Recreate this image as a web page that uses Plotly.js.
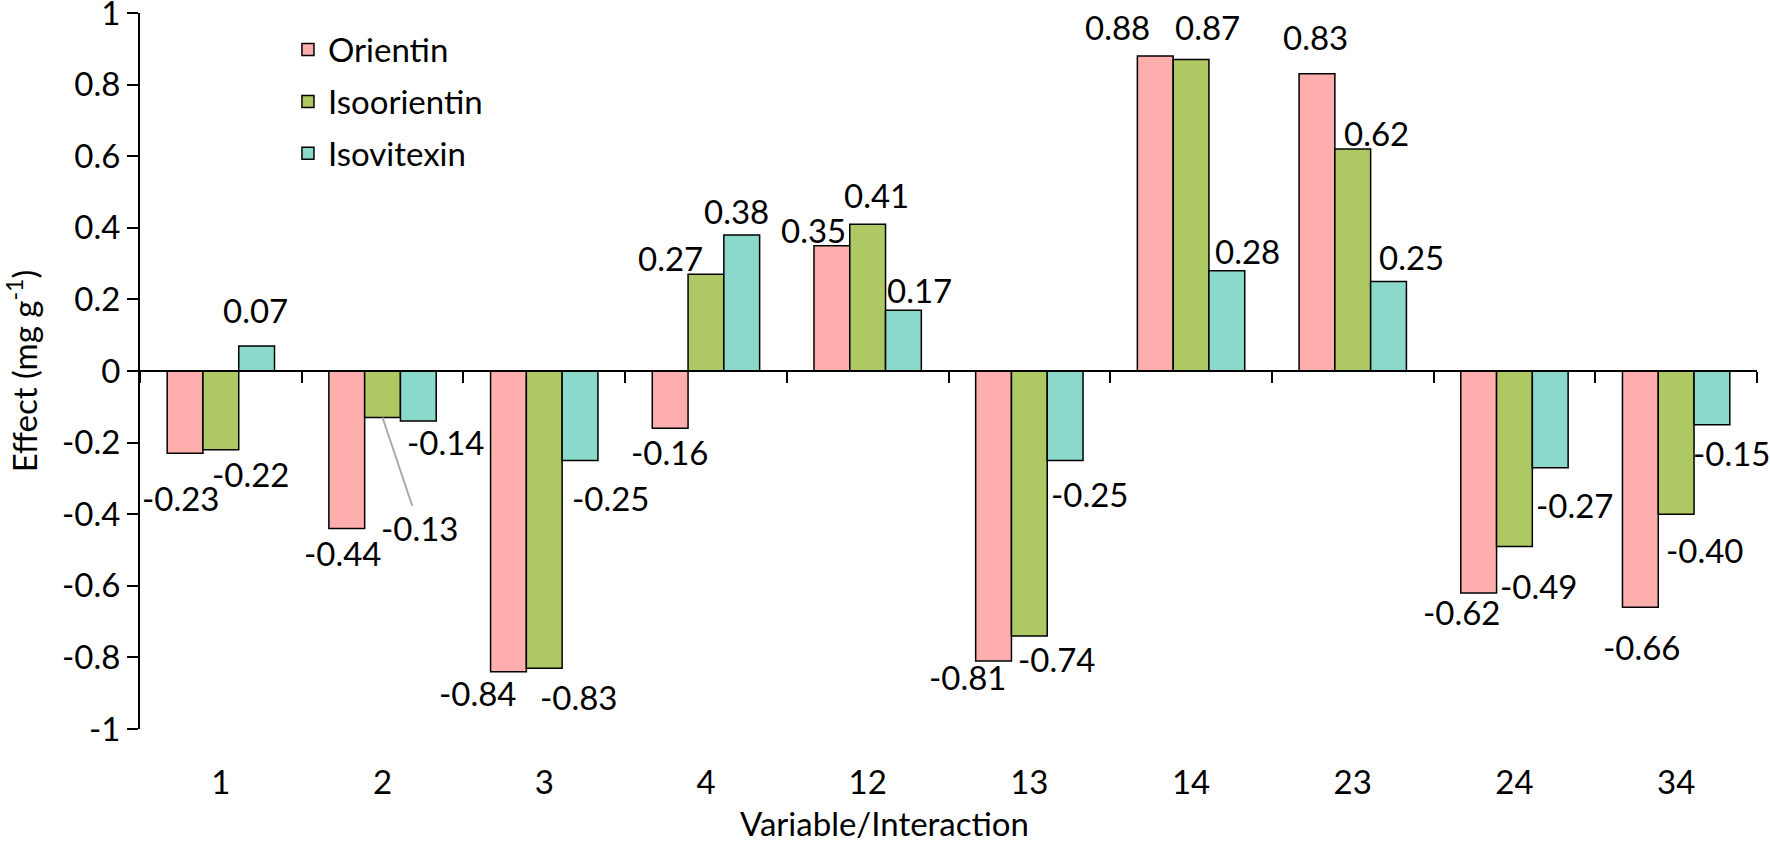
<!DOCTYPE html>
<html>
<head>
<meta charset="utf-8">
<script src="https://cdn.plot.ly/plotly-3.0.1.min.js"></script>
<style>
  html, body { margin: 0; padding: 0; background: #ffffff; }
  #chart { width: 1770px; height: 844px; }
</style>
</head>
<body>
<div id="chart"></div>
<script>
// ---- data ----
const categories = ['1', '2', '3', '4', '12', '13', '14', '23', '24', '34'];
const orientin    = [-0.23, -0.44, -0.84, -0.16, 0.35, -0.81, 0.88, 0.83, -0.62, -0.66];
const isoorientin = [-0.22, -0.13, -0.83, 0.27, 0.41, -0.74, 0.87, 0.62, -0.49, -0.40];
const isovitexin  = [0.07, -0.14, -0.25, 0.38, 0.17, -0.25, 0.28, 0.25, -0.27, -0.15];
const seriesNames = ['Orientin', 'Isoorientin', 'Isovitexin'];
const yTickVals = [1, 0.8, 0.6, 0.4, 0.2, 0, -0.2, -0.4, -0.6, -0.8, -1];
const yTickText = ['1', '0.8', '0.6', '0.4', '0.2', '0', '-0.2', '-0.4', '-0.6', '-0.8', '-1'];

// ---- label placement (pixel offsets: horizontal from group centre, distance beyond bar end) ----
const labelDx = [
  [-40, -40, -67, -36, -54, -62, -74, -37, -53, -35],
  [30, 37, 34, -35, 9, 27, 16, 24, 24, 28],
  [35, 63, 66, 31, 52, 60, 56, 59, 60, 55]
];
const labelDist = [
  [45, 24, 21, 24, 16, 16, 29, 37, 19, 40],
  [24, 110, 29, 16, 29, 23, 33, 16, 40, 36],
  [36, 21, 37, 24, 20, 33, 20, 25, 37, 28]
];
const leaderLine = [
  [false, false, false, false, false, false, false, false, false, false],
  [false, true, false, false, false, false, false, false, false, false],
  [false, false, false, false, false, false, false, false, false, false]
];

// ---- styles ----
const FONT = 'Lato, "Open Sans", "Noto Sans", sans-serif';
const FS = 33;
const colors = ['#FFAEAE', '#AEC963', '#8AD9CA'];
const allSeries = [orientin, isoorientin, isovitexin];

const traces = allSeries.map((vals, i) => ({
  type: 'bar',
  name: seriesNames[i],
  x: categories,
  y: vals,
  legendgroup: 'g' + i,
  marker: { color: colors[i], line: { color: '#000000', width: 1.5 } },
  hoverinfo: 'x+y+name'
}));
// invisible helper trace so the zero-line axis (x2) gets a subplot
traces.push({ type: 'scatter', mode: 'markers', x: [0], y: [0], xaxis: 'x2', yaxis: 'y', showlegend: false, hoverinfo: 'skip', marker: { opacity: 0, size: 1 } });

function fmt(v) { return (v < 0 ? '-' : '') + Math.abs(v).toFixed(2); }

const annotations = [];
allSeries.forEach((vals, s) => {
  vals.forEach((v, k) => {
    const sign = v >= 0 ? 1 : -1;
    if (leaderLine[s][k]) {
      annotations.push({
        xref: 'x', yref: 'y', x: k, y: v,
        text: fmt(v), showarrow: true, arrowhead: 0, arrowwidth: 2,
        arrowcolor: '#aaaaaa', ax: labelDx[s][k], ay: labelDist[s][k],
        font: { family: FONT, size: FS, color: '#000' }
      });
    } else {
      annotations.push({
        xref: 'x', yref: 'y', x: k, y: v,
        xshift: labelDx[s][k], yshift: sign * labelDist[s][k],
        xanchor: 'center', yanchor: 'middle',
        text: fmt(v), showarrow: false,
        font: { family: FONT, size: FS, color: '#000' }
      });
    }
  });
});
annotations.push({
  xref: 'paper', yref: 'paper', x: 0.4607, y: -0.131, xanchor: 'center', yanchor: 'middle',
  text: 'Variable/Interaction', showarrow: false,
  font: { family: FONT, size: FS, color: '#000' }
});

const layout = {
  width: 1770, height: 844,
  margin: { l: 140, r: 13, t: 13, b: 115, pad: 0 },
  paper_bgcolor: '#ffffff', plot_bgcolor: '#ffffff',
  font: { family: FONT, size: FS, color: '#000' },
  barmode: 'group', bargap: 0.336, bargroupgap: 0,
  showlegend: true,
  legend: {
    x: 0.0915, xanchor: 'left', y: 0.988, yanchor: 'top',
    bgcolor: 'rgba(0,0,0,0)', traceorder: 'grouped', tracegroupgap: 6,
    font: { family: FONT, size: FS, color: '#000' }
  },
  xaxis: {
    type: 'category', range: [-0.5, 9.5], autorange: false,
    showline: false, showgrid: false, zeroline: false,
    ticks: 'outside', ticklen: 24, tickcolor: 'rgba(0,0,0,0)',
    tickfont: { family: FONT, size: FS, color: '#000' },
    fixedrange: true
  },
  xaxis2: {
    type: 'linear', overlaying: 'x', anchor: 'free', position: 0.5,
    range: [-0.5, 9.5], autorange: false, tick0: -0.5, dtick: 1,
    showline: true, linecolor: '#000', linewidth: 2,
    ticks: 'outside', ticklen: 11, tickwidth: 2, tickcolor: '#000',
    showticklabels: false, showgrid: false, zeroline: false, fixedrange: true
  },
  yaxis: {
    range: [-1, 1], autorange: false, tickvals: yTickVals, ticktext: yTickText,
    showline: true, linecolor: '#000', linewidth: 2,
    ticks: 'outside', ticklen: 11, tickwidth: 2, tickcolor: '#000',
    ticklabeloverflow: 'allow',
    showgrid: false, zeroline: false,
    tickfont: { family: FONT, size: FS, color: '#000' },
    title: { text: 'Effect (mg g<sup>-1</sup>)', standoff: 22, font: { family: FONT, size: FS, color: '#000' } },
    fixedrange: true
  },
  annotations: annotations
};

Plotly.newPlot('chart', traces, layout, { displayModeBar: false, staticPlot: true });
</script>
</body>
</html>
